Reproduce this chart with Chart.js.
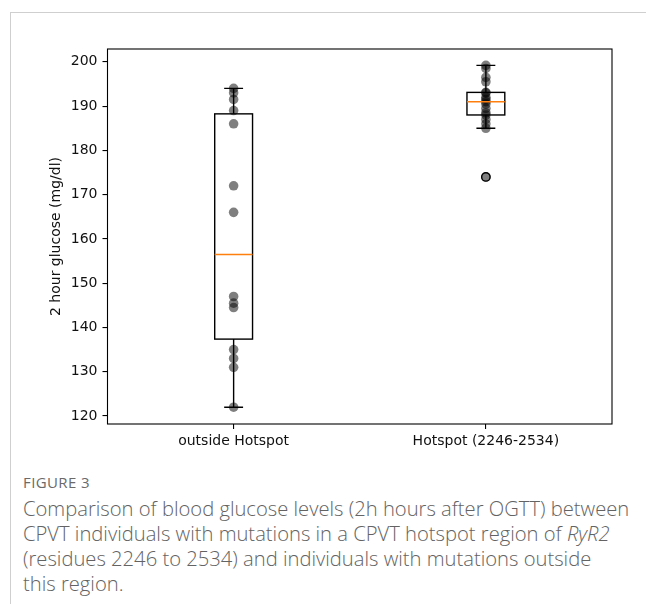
<!DOCTYPE html>
<html>
<head>
<meta charset="utf-8">
<script src="https://cdn.jsdelivr.net/npm/chart.js@4.4.1/dist/chart.umd.min.js"></script>
<style>
  html, body { margin:0; padding:0; background:#fff; }
  body { width:646px; height:604px; position:relative; overflow:hidden; }
  #frame { position:absolute; left:10px; top:12px; width:640px; height:600px;
           border-top:1.5px solid #cfcfcf; border-left:1.5px solid #cfcfcf; }
  #wrap { position:absolute; left:0; top:0; width:646px; height:460px; }
  #fig { position:absolute; left:23px; top:472px; font-family:"Open Sans", sans-serif;
         font-size:15px; line-height:20px; color:#6a6a6a; letter-spacing:0.4px; white-space:nowrap; }
  #cap { position:absolute; left:23px; top:496px; width:623px; font-family:"Open Sans", sans-serif;
         font-weight:300; font-size:20.2px; line-height:25px; color:#636363; white-space:nowrap; }
</style>
</head>
<body>
<div id="frame"></div>
<div id="wrap"><canvas id="c" width="646" height="460"></canvas></div>
<div id="fig">FIGURE 3</div>
<div id="cap">Comparison of blood glucose levels (2h hours after OGTT) between<br>CPVT individuals with mutations in a CPVT hotspot region of <i>RyR2</i><br>(residues 2246 to 2534) and individuals with mutations outside<br>this region.</div>
<script>
// ---- data ----
const categories = ["outside Hotspot", "Hotspot (2246-2534)"];
const outsideValues = [194, 193, 191.5, 189, 186, 172, 166, 147, 145.5, 144.5, 135, 133, 131, 122];
const hotspotValues = [199.2, 198.5, 196.5, 195.5, 193.1, 193, 192, 191.5, 191, 190.5, 189.5, 188.5, 188, 187, 186, 185, 174];
const yTicks = [120, 130, 140, 150, 160, 170, 180, 190, 200];
const groups = [outsideValues, hotspotValues];

// numpy-style linear percentile
function pct(sorted, p) {
  const pos = (sorted.length - 1) * p;
  const lo = Math.floor(pos), hi = Math.ceil(pos);
  return sorted[lo] + (sorted[hi] - sorted[lo]) * (pos - lo);
}
function boxStats(vals) {
  const s = vals.slice().sort((a, b) => a - b);
  const q1 = pct(s, 0.25), med = pct(s, 0.5), q3 = pct(s, 0.75);
  const iqr = q3 - q1;
  const loLim = q1 - 1.5 * iqr, hiLim = q3 + 1.5 * iqr;
  const inside = s.filter(v => v >= loLim && v <= hiLim);
  return { q1, med, q3, wlo: inside[0], whi: inside[inside.length - 1],
           fliers: s.filter(v => v < loLim || v > hiLim) };
}
const stats = groups.map(boxStats);

const boxPlugin = {
  id: 'boxPlugin',
  afterDatasetsDraw(chart) {
    const { ctx, scales: { x, y }, chartArea } = chart;
    ctx.save();
    stats.forEach((st, i) => {
      const cx = x.getPixelForValue(i + 1);
      const hw = x.getPixelForValue(i + 1 + 0.075) - cx;
      const cw = hw / 2;
      const yq1 = y.getPixelForValue(st.q1), yq3 = y.getPixelForValue(st.q3);
      const ym = y.getPixelForValue(st.med);
      const ylo = y.getPixelForValue(st.wlo), yhi = y.getPixelForValue(st.whi);
      ctx.strokeStyle = '#000';
      ctx.lineWidth = 1.4;
      ctx.strokeRect(cx - hw, yq3, hw * 2, yq1 - yq3);
      ctx.beginPath();
      ctx.moveTo(cx, yq1); ctx.lineTo(cx, ylo);
      ctx.moveTo(cx, yq3); ctx.lineTo(cx, yhi);
      ctx.moveTo(cx - cw, ylo); ctx.lineTo(cx + cw, ylo);
      ctx.moveTo(cx - cw, yhi); ctx.lineTo(cx + cw, yhi);
      ctx.stroke();
      st.fliers.forEach(v => {
        ctx.beginPath();
        ctx.arc(cx, y.getPixelForValue(v), 4.2, 0, Math.PI * 2);
        ctx.stroke();
      });
      ctx.strokeStyle = '#ff7f0e';
      ctx.beginPath();
      ctx.moveTo(cx - hw, ym); ctx.lineTo(cx + hw, ym);
      ctx.stroke();
    });
    // axes frame
    ctx.strokeStyle = '#000';
    ctx.lineWidth = 1.1;
    ctx.strokeRect(chartArea.left, chartArea.top, chartArea.right - chartArea.left, chartArea.bottom - chartArea.top);
    ctx.restore();
  }
};

const datasets = groups.map((vals, i) => ({
  data: vals.map(v => ({ x: i + 1, y: v })),
  backgroundColor: 'rgba(0,0,0,0.5)',
  borderWidth: 0,
  pointRadius: 4.8,
  pointHoverRadius: 4.8
}));

new Chart(document.getElementById('c'), {
  type: 'scatter',
  data: { datasets },
  options: {
    responsive: false,
    animation: false,
    events: [],
    layout: { padding: { left: 0, right: 34, top: 49, bottom: 0 } },
    plugins: { legend: { display: false }, tooltip: { enabled: false } },
    scales: {
      x: {
        type: 'linear', min: 0.5, max: 2.5,
        afterBuildTicks: s => { s.ticks = categories.map((c, i) => ({ value: i + 1 })); },
        afterFit: s => { s.height = 36; },
        grid: { drawOnChartArea: false, drawTicks: true, tickLength: 5, color: '#000', lineWidth: 1.1 },
        border: { display: false },
        ticks: { padding: 4, color: '#111', font: { family: 'DejaVu Sans', size: 14 },
                 callback: v => categories[v - 1], maxRotation: 0, autoSkip: false }
      },
      y: {
        type: 'linear', min: 118.2, max: 202.9,
        afterBuildTicks: s => { s.ticks = yTicks.map(v => ({ value: v })); },
        afterFit: s => { s.width = 107.5; },
        grid: { drawOnChartArea: false, drawTicks: true, tickLength: 5, color: '#000', lineWidth: 1.1 },
        border: { display: false },
        ticks: { padding: 5, color: '#111', font: { family: 'DejaVu Sans', size: 14 } },
        title: { display: true, text: '2 hour glucose (mg/dl)', color: '#111',
                 font: { family: 'DejaVu Sans', size: 14 }, padding: { top: 47.6, bottom: 0 } }
      }
    }
  },
  plugins: [boxPlugin]
});
</script>
</body>
</html>
